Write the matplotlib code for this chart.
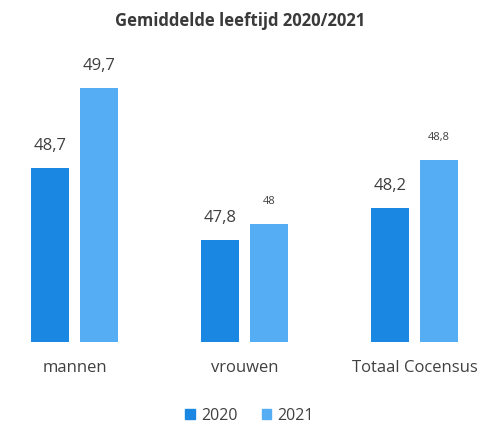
import matplotlib
matplotlib.use("Agg")
import matplotlib.pyplot as plt
import numpy as np
from matplotlib.patches import Patch

categories = ["mannen", "vrouwen", "Totaal Cocensus"]
series_names = ["2020", "2021"]
values_2020 = [48.7, 47.8, 48.2]
values_2021 = [49.7, 48.0, 48.8]
labels_2020 = ["48,7", "47,8", "48,2"]
labels_2021 = ["49,7", "48", "48,8"]
label_sizes_2021 = [12, 8, 8]

c2020 = "#1A87E2"
c2021 = "#55AEF4"
txt = "#404040"
plt.rcParams['font.family'] = ['Open Sans', 'DejaVu Sans']

W, H = 480, 424
fig = plt.figure(figsize=(W / 100, H / 100), dpi=100)
base_px = 342
top_px = 40
ax = fig.add_axes([0, (H - base_px) / H, 1, (base_px - top_px) / H])
ymin = 46.525
ymax = ymin + (base_px - top_px) / 80
ax.set_ylim(ymin, ymax)
ax.set_xlim(-74.5 / 170, (480 - 74.5) / 170)

x = np.arange(len(categories))
bw = 0.218
off = 0.144
b1 = ax.bar(x - off, np.array(values_2020) - ymin, bw, bottom=ymin, color=c2020)
b2 = ax.bar(x + off, np.array(values_2021) - ymin, bw, bottom=ymin, color=c2021)

for xi, v, lab in zip(x, values_2020, labels_2020):
    ax.annotate(lab, (xi - off, v), xytext=(0, 16), textcoords="offset points",
                ha="center", va="center", fontsize=12, color=txt)
for xi, v, lab, fs in zip(x, values_2021, labels_2021, label_sizes_2021):
    ax.annotate(lab, (xi + off, v), xytext=(0, 16), textcoords="offset points",
                ha="center", va="center", fontsize=fs, color=txt)

for s in ax.spines.values():
    s.set_visible(False)
ax.set_yticks([])
ax.set_xticks(x)
ax.set_xticklabels(categories, fontsize=12, color=txt)
ax.tick_params(axis="x", length=0, pad=13)

fig.text(0.5, 1 - 21 / H, "Gemiddelde leeftijd 2020/2021", ha="center", va="center",
         fontsize=12, fontweight="bold", color="#3a3a3a")

handles = [Patch(color=c2020), Patch(color=c2021)]
fig.legend(handles, series_names, loc="center", bbox_to_anchor=(0.52, 1 - 416 / H),
           ncol=2, frameon=False, fontsize=11.5, handlelength=0.6, handleheight=0.6,
           handletextpad=0.4, columnspacing=1.5, labelcolor=txt)

fig.savefig("out.png", dpi=100)
